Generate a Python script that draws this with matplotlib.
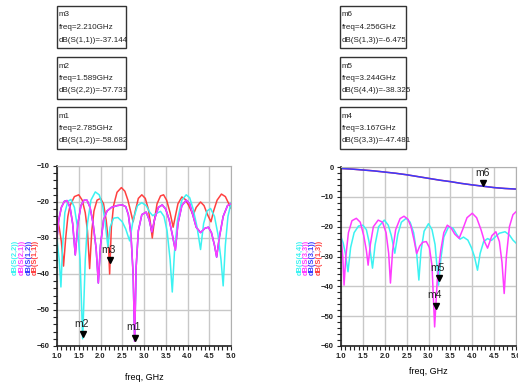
import matplotlib
matplotlib.use("Agg")
import matplotlib.pyplot as plt
from matplotlib.patches import Rectangle
from matplotlib.ticker import MultipleLocator

plt.rcParams['font.family'] = ['Liberation Sans', 'DejaVu Sans']

W, H = 518, 385

# ---- left chart: S(1,1), S(1,2), S(2,1), S(2,2) ----
f_s11 = [1.00, 1.05, 1.10, 1.15, 1.20, 1.25, 1.30, 1.40, 1.50, 1.58, 1.65, 1.70, 1.75, 1.80,
         1.85, 1.92, 2.00, 2.07, 2.13, 2.18, 2.21, 2.25, 2.30, 2.38, 2.48, 2.56, 2.63, 2.70,
         2.75, 2.80, 2.87, 2.95, 3.03, 3.10, 3.15, 3.19, 3.24, 3.30, 3.38, 3.45, 3.52, 3.60,
         3.67, 3.72, 3.78, 3.87, 3.95, 4.03, 4.13, 4.20, 4.30, 4.38, 4.46, 4.54, 4.60, 4.68,
         4.78, 4.87, 4.95, 5.00]
db_s11 = [-24.5, -27, -31, -37.8, -30, -24, -21, -18.5, -18, -19.5, -23, -28, -38.5, -28,
          -22.5, -19.5, -19, -20.5, -25, -31, -40, -27, -21, -17.3, -16, -17, -19.5, -23,
          -25.5, -22.5, -19, -18, -19, -22, -26, -30, -25, -20.5, -18.3, -18, -19.5, -23,
          -27, -24, -20.5, -18.6, -19.3, -21, -23.6, -21.5, -20, -21, -23.5, -25.5, -22.5, -19.5,
          -17.8, -18.5, -20.5, -21.7]

f_s22 = [1.00, 1.05, 1.09, 1.13, 1.18, 1.25, 1.32, 1.40, 1.47, 1.53, 1.59, 1.65, 1.70, 1.78,
         1.88, 1.97, 2.05, 2.11, 2.17, 2.22, 2.30, 2.40, 2.50, 2.58, 2.67, 2.75, 2.85, 2.95,
         3.05, 3.13, 3.20, 3.28, 3.38, 3.46, 3.53, 3.60, 3.65, 3.70, 3.77, 3.87, 3.97, 4.05,
         4.13, 4.22, 4.30, 4.37, 4.45, 4.53, 4.62, 4.70, 4.77, 4.82, 4.87, 4.93, 5.00]
db_s22 = [-30.5, -36, -43.6, -32, -23, -19.8, -19.3, -21.5, -27, -36, -58, -36, -26, -19.5,
          -17.2, -18, -21, -26, -32.5, -27, -24.5, -24.3, -25.5, -27.5, -30.8, -25, -21, -20.2,
          -21, -22.8, -23.8, -23.2, -22.6, -24, -28, -36, -45, -34, -25, -19.5, -18, -18.8,
          -22, -27, -33.2, -26, -22.5, -21.8, -24, -29, -36, -43.3, -32, -24, -20.3]

f_s21 = [1.00, 1.04, 1.10, 1.17, 1.23, 1.30, 1.36, 1.42, 1.48, 1.55, 1.62, 1.69, 1.76, 1.83,
         1.90, 1.95, 2.00, 2.07, 2.15, 2.25, 2.38, 2.50, 2.58, 2.64, 2.70, 2.75, 2.785, 2.82,
         2.87, 2.95, 3.05, 3.12, 3.18, 3.25, 3.33, 3.42, 3.50, 3.58, 3.65, 3.72, 3.78, 3.87,
         3.97, 4.05, 4.12, 4.20, 4.30, 4.40, 4.48, 4.55, 4.62, 4.67, 4.73, 4.82, 4.92, 5.00]
db_s21 = [-30, -25, -21.5, -19.8, -19.6, -21.5, -26, -34.7, -26, -21, -19.5, -19.5, -21.5, -26,
          -33, -42.5, -32, -25, -22.5, -21.5, -21, -20.8, -21.3, -23.5, -29, -40, -58.7, -38,
          -28, -23.5, -22.8, -25, -28.3, -24.5, -21.5, -20.8, -22, -25, -29, -33.4, -26, -21,
          -19.5, -20.5, -23.5, -27, -28.5, -27.3, -27, -28.5, -32, -35.3, -30, -24, -21, -20.5]
# reciprocal network: S(1,2) lies under S(2,1)
f_s12 = f_s21
db_s12 = db_s21

# ---- right chart: S(1,3), S(3,1), S(3,3), S(4,4) ----
f_s13 = [1.00, 1.25, 1.50, 1.75, 2.00, 2.25, 2.50, 2.75, 3.00, 3.25, 3.50, 3.75, 4.00,
         4.25, 4.50, 4.75, 5.00]
db_s13 = [-0.5, -0.7, -1.0, -1.3, -1.7, -2.1, -2.6, -3.2, -3.8, -4.4, -4.9, -5.5, -6.0,
          -6.45, -6.9, -7.2, -7.4]
f_s31 = f_s13
db_s31 = db_s13

f_s33 = [1.00, 1.04, 1.07, 1.11, 1.17, 1.25, 1.35, 1.44, 1.52, 1.58, 1.62, 1.67, 1.74, 1.85,
         1.95, 2.03, 2.09, 2.13, 2.18, 2.25, 2.35, 2.44, 2.53, 2.60, 2.67, 2.73, 2.80, 2.87,
         2.95, 3.02, 3.08, 3.14, 3.20, 3.28, 3.35, 3.43, 3.52, 3.60, 3.70, 3.78, 3.88, 4.00,
         4.10, 4.20, 4.28, 4.35, 4.45, 4.54, 4.62, 4.68, 4.73, 4.78, 4.85, 4.93, 5.00]
db_s33 = [-23.4, -30, -39.6, -30, -22, -18, -17.2, -18.5, -23, -28, -32.9, -26, -20, -17.8,
          -18.5, -22, -29, -38.9, -28, -21, -17.3, -16.5, -17.5, -20, -24.5, -29, -26.5, -25.2,
          -25, -27, -33, -53.6, -38, -28, -22, -19.5, -20.5, -22.5, -23.9, -21, -17, -15.5,
          -17, -21, -25, -27.2, -23, -21.7, -25, -32, -42.4, -30, -20, -16, -15]

f_s44 = [1.00, 1.05, 1.10, 1.16, 1.22, 1.30, 1.40, 1.50, 1.58, 1.64, 1.72, 1.78, 1.86, 1.99,
         2.08, 2.15, 2.23, 2.30, 2.38, 2.49, 2.58, 2.66, 2.73, 2.78, 2.83, 2.90, 3.00, 3.08,
         3.15, 3.23, 3.28, 3.35, 3.46, 3.56, 3.64, 3.72, 3.80, 3.90, 3.98, 4.05, 4.12, 4.18,
         4.26, 4.35, 4.44, 4.52, 4.62, 4.75, 4.85, 4.93, 5.00]
db_s44 = [-23.4, -25.5, -29, -35.1, -27, -22, -19.8, -19.5, -21, -25, -33.9, -26, -20, -17.8,
          -19.5, -23, -28.9, -22.5, -18.5, -17.2, -18.5, -22, -29, -37.9, -28, -21.5, -19, -21,
          -26, -39.6, -31, -23.5, -20, -20.5, -22.5, -24.2, -23.5, -24.5, -27, -30, -34.6, -29,
          -25, -24, -24.6, -23.5, -22.2, -21.7, -22.8, -24.5, -25.5]

# markers
left_markers = [("m1", 2.785, -58.682, "dB(S(1,2))"),
                ("m2", 1.589, -57.731, "dB(S(2,2))"),
                ("m3", 2.210, -37.144, "dB(S(1,1))")]
right_markers = [("m4", 3.167, -47.481, "dB(S(3,3))"),
                 ("m5", 3.244, -38.325, "dB(S(4,4))"),
                 ("m6", 4.256, -6.475, "dB(S(1,3))")]

RED, BLUE, MAG, CYAN = "#ff4040", "#3a3aff", "#ff3cff", "#3cf2f2"


def fx(px):
    return px / W


def fy(py):
    return 1 - py / H


fig = plt.figure(figsize=(W / 100, H / 100), dpi=100)
fig.patch.set_facecolor("white")


def setup_axes(ax, ylim, yticks):
    ax.set_xlim(1.0, 5.0)
    ax.set_ylim(*ylim)
    ax.set_xticks([1.0, 1.5, 2.0, 2.5, 3.0, 3.5, 4.0, 4.5, 5.0])
    ax.set_yticks(yticks)
    ax.xaxis.set_minor_locator(MultipleLocator(0.1))
    ax.yaxis.set_minor_locator(MultipleLocator(2))
    ax.grid(True, which="major", color="#c8c8c8", lw=1.0)
    ax.set_axisbelow(True)
    ax.tick_params(which="both", direction="out", length=3, width=0.8, labelsize=5.5,
                   pad=2, colors="#222222")
    for lab in ax.get_xticklabels() + ax.get_yticklabels():
        lab.set_fontweight("bold")
    for s in ("top", "right"):
        ax.spines[s].set_color("#b0b0b0")
    for s in ("left", "bottom"):
        ax.spines[s].set_color("#222222")
        ax.spines[s].set_linewidth(1.2)


def draw_markers(ax, markers):
    for name, f, v, _ in markers:
        ax.plot([f], [v + 1.0], marker="v", ms=4, color="black", ls="none", zorder=5)
        ax.annotate(name, (f, v + 1.0), xytext=(-1, 4), textcoords="offset points",
                    ha="center", va="bottom", fontsize=7.5, color="#222222", zorder=5)


def ylabel_stack(xs, texts, colors, yc):
    for x, t, c in zip(xs, texts, colors):
        fig.text(fx(x), fy(yc), t, rotation=90, color=c, fontsize=5.3, fontweight="bold",
                 ha="center", va="center")


def info_boxes(x0, x1, markers):
    tops = [6, 57, 107]
    for top, (name, f, v, lab) in zip(tops, markers):
        fig.add_artist(Rectangle((fx(x0), fy(top + 42)), fx(x1) - fx(x0), fy(top) - fy(top + 42),
                                 transform=fig.transFigure, fill=False, ec="#333333", lw=1.0))
        lines = [name, "freq=%.3fGHz" % f, "%s=%.3f" % (lab, v)]
        for k, t in enumerate(lines):
            fig.text(fx(x0 + 1.5), fy(top + 9 + 12.5 * k), t, fontsize=5.8, color="#222222",
                     ha="left", va="center")


# left chart
ax1 = fig.add_axes([fx(57), fy(346), fx(231) - fx(57), fy(166) - fy(346)])
ax1.plot(f_s11, db_s11, color=RED, lw=1.1)
ax1.plot(f_s12, db_s12, color=BLUE, lw=1.1)
ax1.plot(f_s22, db_s22, color=CYAN, lw=1.1)
ax1.plot(f_s21, db_s21, color=MAG, lw=1.1)
setup_axes(ax1, (-60, -10), [-60, -50, -40, -30, -20, -10])
draw_markers(ax1, left_markers)

# right chart
ax2 = fig.add_axes([fx(341), fy(346), fx(516) - fx(341), fy(167) - fy(346)])
ax2.plot(f_s13, db_s13, color=RED, lw=1.1)
ax2.plot(f_s31, db_s31, color=BLUE, lw=1.1)
ax2.plot(f_s44, db_s44, color=CYAN, lw=1.1)
ax2.plot(f_s33, db_s33, color=MAG, lw=1.1)
setup_axes(ax2, (-60, 0), [-60, -50, -40, -30, -20, -10, 0])
draw_markers(ax2, right_markers)

fig.text(fx(144), fy(378), "freq, GHz", fontsize=6.5, ha="center", va="center")
fig.text(fx(428), fy(372), "freq, GHz", fontsize=6.5, ha="center", va="center")

ylabel_stack([15, 22, 29, 35.5], ["dB(S(2,2))", "dB(S(2,1))", "dB(S(1,2))", "dB(S(1,1))"],
             [CYAN, MAG, BLUE, RED], 257)
ylabel_stack([300.5, 306.5, 312.5, 319], ["dB(S(4,4))", "dB(S(3,3))", "dB(S(3,1))", "dB(S(1,3))"],
             [CYAN, MAG, BLUE, RED], 257)

info_boxes(57, 126, [left_markers[2], left_markers[1], left_markers[0]])
info_boxes(340, 406, [right_markers[2], right_markers[1], right_markers[0]])

fig.savefig("out.png", dpi=100)
